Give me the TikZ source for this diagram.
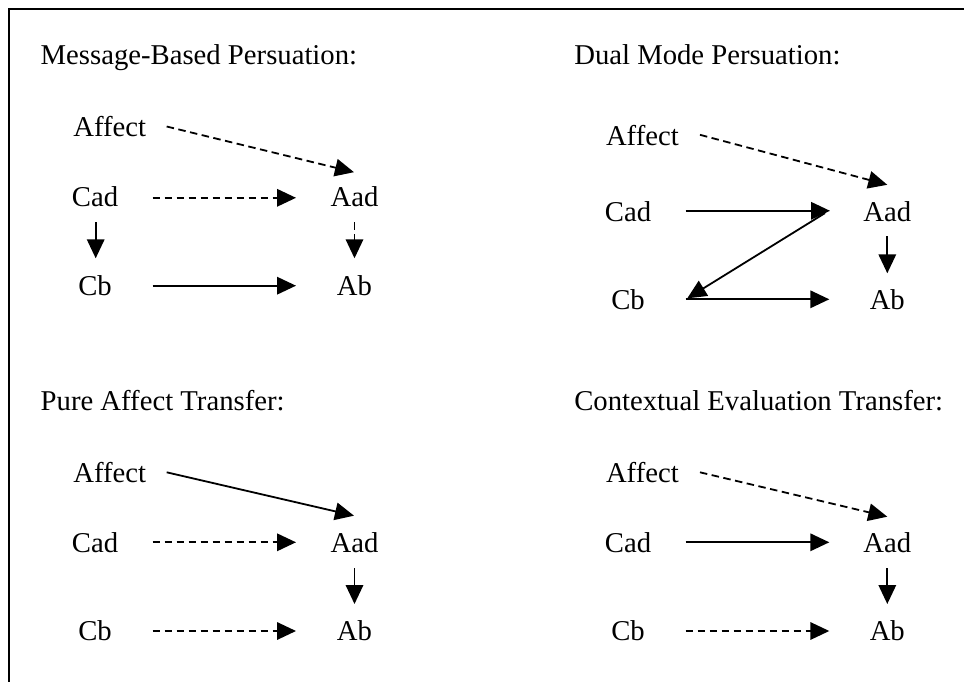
\documentclass[tikz,border=0pt]{standalone}
\usepackage{fontspec}
\setmainfont{Liberation Serif}
\usetikzlibrary{arrows.meta}
\begin{document}
\begin{tikzpicture}[x=1pt,y=1pt,
  lbl/.style={inner sep=0pt, outer sep=0pt, anchor=base, font=\fontsize{28.7}{34}\selectfont},
  lblw/.style={lbl, anchor=base west},
  conn/.style={line width=1.8pt, -{Triangle[length=19pt,width=17.5pt]}},
  dconn/.style={conn, dash pattern=on 7.5pt off 4.5pt}]
\useasboundingbox (0,0) rectangle (964,-682);
% frame (top and left edges)
\draw[line width=2.2pt] (8.7,-690) -- (8.7,-8.7) -- (970,-8.7);

% ---------- Panel 1: Message-Based Persuation ----------
\node[lblw] (t1) at (40.7,-64.5) {Message-Based Persuation:};
\node[lblw] (a1) at (73.3,-136.5) {Affect};
\node[lbl]  (c1) at (95,-206.2) {Cad};
\node[lbl]  (b1) at (95,-295) {Cb};
\node[lbl]  (d1) at (354.5,-206.2) {Aad};
\node[lbl]  (e1) at (354.5,-295) {Ab};
\draw[dconn] ([shift={(20.6,10)}]a1.base east) -- ([shift={(-0.5,34)}]d1.base);
\draw[dconn] ([shift={(57.7,8.4)}]c1.base) -- ([shift={(-58.5,8.4)}]d1.base);
\draw[conn]  ([shift={(0.7,-16)}]c1.base) -- ([shift={(0.7,36.7)}]b1.base);
\draw[dconn] ([shift={(0,-16)}]d1.base) -- ([shift={(0,36.7)}]e1.base);
\draw[conn]  ([shift={(57.7,9.3)}]b1.base) -- ([shift={(-58.5,9.3)}]e1.base);

% ---------- Panel 2: Dual Mode Persuation ----------
\node[lblw] (t2) at (574.3,-64.5) {Dual Mode Persuation:};
\node[lblw] (a2) at (606,-145.3) {Affect};
\node[lbl]  (c2) at (628,-221.3) {Cad};
\node[lbl]  (b2) at (628,-309.3) {Cb};
\node[lbl]  (d2) at (887.3,-221.3) {Aad};
\node[lbl]  (e2) at (887.3,-309.3) {Ab};
\draw[dconn] ([shift={(21.2,10.5)}]a2.base east) -- ([shift={(0,36.5)}]d2.base);
\draw[conn]  ([shift={(57.7,10.5)}]c2.base) -- ([shift={(-57.3,10.5)}]d2.base);
\draw[conn]  ([shift={(-62.3,8.2)}]d2.base) -- ([shift={(59.3,11)}]b2.base);
\draw[conn]  ([shift={(57.7,10)}]b2.base) -- ([shift={(-58,10)}]e2.base);
\draw[conn]  ([shift={(0,-15)}]d2.base) -- ([shift={(0,36)}]e2.base);

% ---------- Panel 3: Pure Affect Transfer ----------
\node[lblw] (t3) at (40.7,-410.7) {Pure Affect Transfer:};
\node[lblw] (a3) at (73.3,-482.7) {Affect};
\node[lbl]  (c3) at (95,-552.3) {Cad};
\node[lbl]  (b3) at (95,-640) {Cb};
\node[lbl]  (d3) at (354.5,-552.3) {Aad};
\node[lbl]  (e3) at (354.5,-640) {Ab};
\draw[conn]  ([shift={(20.6,10.4)}]a3.base east) -- ([shift={(-0.5,36.6)}]d3.base);
\draw[dconn] ([shift={(57.7,10)}]c3.base) -- ([shift={(-58.5,10)}]d3.base);
\draw[conn]  ([shift={(0,-16)}]d3.base) -- ([shift={(0,36)}]e3.base);
\draw[dconn] ([shift={(57.7,9)}]b3.base) -- ([shift={(-58.5,9)}]e3.base);

% ---------- Panel 4: Contextual Evaluation Transfer ----------
\node[lblw] (t4) at (574.3,-410.7) {Contextual Evaluation Transfer:};
\node[lblw] (a4) at (606,-482.7) {Affect};
\node[lbl]  (c4) at (628,-552.3) {Cad};
\node[lbl]  (b4) at (628,-640) {Cb};
\node[lbl]  (d4) at (887.3,-552.3) {Aad};
\node[lbl]  (e4) at (887.3,-640) {Ab};
\draw[dconn] ([shift={(21.2,10.4)}]a4.base east) -- ([shift={(0,35.6)}]d4.base);
\draw[conn]  ([shift={(57.7,10)}]c4.base) -- ([shift={(-58,10)}]d4.base);
\draw[conn]  ([shift={(0,-16)}]d4.base) -- ([shift={(0,36)}]e4.base);
\draw[dconn] ([shift={(57.7,9)}]b4.base) -- ([shift={(-58,9)}]e4.base);
\end{tikzpicture}
\end{document}
